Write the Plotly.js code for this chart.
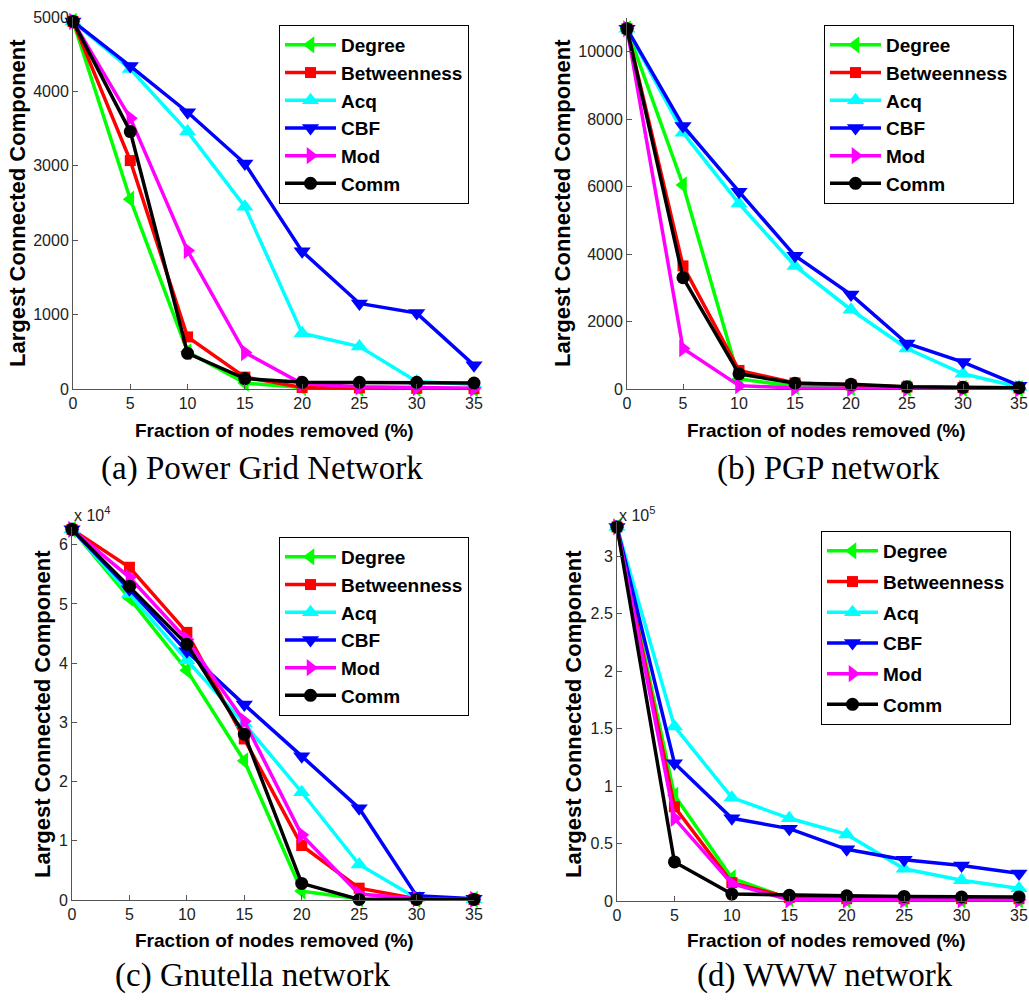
<!DOCTYPE html>
<html>
<head>
<meta charset="utf-8">
<script src="https://cdn.plot.ly/plotly-3.0.1.min.js"></script>
<style>html,body{margin:0;padding:0;background:#fff;}#chart{width:1029px;height:1003px;}</style>
</head>
<body>
<div id="chart"></div>
<script>
// ---- data ----
const fractionRemoved = [0, 5, 10, 15, 20, 25, 30, 35];
const seriesNames = ['Degree', 'Betweenness', 'Acq', 'CBF', 'Mod', 'Comm'];

// (a) Power Grid Network
const aDegree      = [4941, 2550, 500, 80, 20, 10, 10, 5];
const aBetweenness = [4941, 3070, 700, 160, 20, 15, 10, 5];
const aAcq         = [4941, 4300, 3460, 2450, 750, 570, 100, 60];
const aCBF         = [4941, 4340, 3720, 3030, 1850, 1150, 1020, 320];
const aMod         = [4941, 3640, 1860, 490, 70, 30, 20, 10];
const aComm        = [4941, 3460, 480, 140, 90, 90, 90, 80];

// (b) PGP network
const bDegree      = [10680, 6050, 300, 80, 40, 30, 20, 10];
const bBetweenness = [10680, 3650, 550, 180, 120, 60, 40, 30];
const bAcq         = [10680, 7600, 5500, 3650, 2350, 1200, 450, 60];
const bCBF         = [10680, 7800, 5850, 3950, 2800, 1350, 800, 100];
const bMod         = [10680, 1200, 100, 30, 20, 15, 10, 5];
const bComm        = [10680, 3300, 450, 170, 140, 70, 50, 40];

// (c) Gnutella network (x 10^4)
const cDegree      = [6.26, 5.10, 3.88, 2.35, 0.15, 0.02, 0.01, 0.01];
const cBetweenness = [6.26, 5.62, 4.52, 2.72, 0.92, 0.20, 0.02, 0.01];
const cAcq         = [6.26, 5.17, 4.05, 2.98, 1.82, 0.60, 0.03, 0.01];
const cCBF         = [6.26, 5.25, 4.20, 3.30, 2.43, 1.55, 0.07, 0.02];
const cMod         = [6.26, 5.45, 4.40, 3.02, 1.10, 0.10, 0.02, 0.01];
const cComm        = [6.26, 5.30, 4.32, 2.80, 0.28, 0.01, 0.01, 0.01];

// (d) WWW network (x 10^5)
const dDegree      = [3.257, 0.92, 0.20, 0.02, 0.01, 0.01, 0.01, 0.01];
const dBetweenness = [3.257, 0.82, 0.16, 0.03, 0.02, 0.02, 0.02, 0.02];
const dAcq         = [3.257, 1.52, 0.90, 0.72, 0.58, 0.28, 0.18, 0.11];
const dCBF         = [3.257, 1.20, 0.72, 0.63, 0.45, 0.36, 0.31, 0.24];
const dMod         = [3.257, 0.72, 0.15, 0.01, 0.01, 0.01, 0.01, 0.01];
const dComm        = [3.257, 0.34, 0.06, 0.05, 0.045, 0.04, 0.035, 0.035];

const xTickVals = [0, 5, 10, 15, 20, 25, 30, 35];
const aYTicks = [0, 1000, 2000, 3000, 4000, 5000];
const bYTicks = [0, 2000, 4000, 6000, 8000, 10000];
const cYTicks = [0, 1, 2, 3, 4, 5, 6];
const dYTicks = [0, 0.5, 1, 1.5, 2, 2.5, 3];
const captions = ['(a) Power Grid Network', '(b) PGP network', '(c) Gnutella network', '(d) WWW network'];
const exponents = ['', '', 'x 10<sup>4</sup>', 'x 10<sup>5</sup>'];
const xTitle = 'Fraction of nodes removed (%)';
const yTitle = 'Largest Connected Component';

// ---- styles / layout positions (pixels) ----
const colors  = ['#00ff00', '#ff0000', '#00ffff', '#0000ff', '#ff00ff', '#000000'];
const symbols = ['triangle-left', 'square', 'triangle-up', 'triangle-down', 'triangle-right', 'circle'];
const msizes  = [15, 11, 15, 15, 15, 13];
const W = 1029, H = 1003;
const SANS = 'Liberation Sans, Arial, sans-serif';

const panels = [
  {data: [aDegree, aBetweenness, aAcq, aCBF, aMod, aComm], x: [73, 474], y: [389, 17], yr: [0, 5000], yt: aYTicks,
   yTitle: [17, 203], xTitle: [274, 430], cap: [262, 468], leg: [279, 25, 0], exp: null},
  {data: [bDegree, bBetweenness, bAcq, bCBF, bMod, bComm], x: [627, 1019], y: [389, 18], yr: [0, 11000], yt: bYTicks,
   yTitle: [562, 203], xTitle: [826, 430], cap: [828, 468], leg: [824, 25, 0], exp: null},
  {data: [cDegree, cBetweenness, cAcq, cCBF, cMod, cComm], x: [72, 474], y: [900, 527], yr: [0, 6.3], yt: cYTicks,
   yTitle: [42, 714], xTitle: [274, 940], cap: [252, 975], leg: [279, 537, 0], exp: [72, 514]},
  {data: [dDegree, dBetweenness, dAcq, dCBF, dMod, dComm], x: [617, 1019], y: [901, 522], yr: [0, 3.3], yt: dYTicks,
   yTitle: [573, 714], xTitle: [826, 940], cap: [825, 975], leg: [821, 531, 3], exp: [617, 514]}
];

const traces = [];
const layout = {
  width: W, height: H,
  margin: {l: 0, r: 0, t: 0, b: 0},
  paper_bgcolor: '#fff', plot_bgcolor: '#fff',
  font: {family: SANS, color: '#000'},
  showlegend: true,
  annotations: []
};
const px = v => v / W;
const py = v => (H - v) / H;

panels.forEach((p, i) => {
  const k = i === 0 ? '' : String(i + 1);
  const legKey = 'legend' + k;
  p.data.forEach((ys, j) => {
    traces.push({
      type: 'scatter', mode: 'lines+markers',
      x: fractionRemoved, y: ys, name: seriesNames[j],
      xaxis: 'x' + k, yaxis: 'y' + k,
      legend: legKey, legendgroup: legKey + seriesNames[j],
      line: {color: colors[j], width: 3.5},
      marker: {symbol: symbols[j], size: msizes[j], color: colors[j], line: {width: 0}},
      cliponaxis: false
    });
  });
  const axBase = {
    showgrid: false, zeroline: false, showline: true, linecolor: '#555', linewidth: 1,
    ticks: 'inside', ticklen: 5, tickcolor: '#555',
    tickfont: {family: SANS, size: 16, color: '#222'}
  };
  layout['xaxis' + k] = Object.assign({}, axBase, {
    domain: [px(p.x[0]), px(p.x[1])], anchor: 'y' + k,
    range: [0, 35], tickvals: xTickVals, ticktext: xTickVals.map(String)
  });
  layout['yaxis' + k] = Object.assign({}, axBase, {
    domain: [py(p.y[0]), py(p.y[1])], anchor: 'x' + k,
    range: p.yr, tickvals: p.yt, ticktext: p.yt.map(String)
  });
  const lp = p.leg;
  layout[legKey] = {
    x: px(lp[0]), y: py(lp[1]), xanchor: 'left', yanchor: 'top',
    bgcolor: '#fff', bordercolor: '#000', borderwidth: 1,
    font: {family: SANS, size: 19, weight: 'bold', color: '#000'},
    traceorder: 'grouped', tracegroupgap: lp[2], itemwidth: 51
  };
  // y-axis title
  layout.annotations.push({
    xref: 'paper', yref: 'paper', x: px(p.yTitle[0]), y: py(p.yTitle[1]),
    xanchor: 'center', yanchor: 'middle', showarrow: false, textangle: -90,
    text: yTitle, font: {family: SANS, size: 22, weight: 'bold', color: '#000'}
  });
  // x-axis title
  layout.annotations.push({
    xref: 'paper', yref: 'paper', x: px(p.xTitle[0]), y: py(p.xTitle[1]),
    xanchor: 'center', yanchor: 'middle', showarrow: false,
    text: xTitle, font: {family: SANS, size: 19, weight: 'bold', color: '#000'}
  });
  // caption
  layout.annotations.push({
    xref: 'paper', yref: 'paper', x: px(p.cap[0]), y: py(p.cap[1]),
    xanchor: 'center', yanchor: 'middle', showarrow: false,
    text: captions[i], font: {family: 'Liberation Serif, Times New Roman, serif', size: 33, color: '#000'}
  });
  // exponent label
  if (p.exp) {
    layout.annotations.push({
      xref: 'paper', yref: 'paper', x: px(p.exp[0]), y: py(p.exp[1]),
      xanchor: 'left', yanchor: 'middle', showarrow: false,
      text: exponents[i], font: {family: SANS, size: 16, color: '#222'}
    });
  }
});

Plotly.newPlot('chart', traces, layout, {staticPlot: true, displayModeBar: false});
</script>
</body>
</html>
